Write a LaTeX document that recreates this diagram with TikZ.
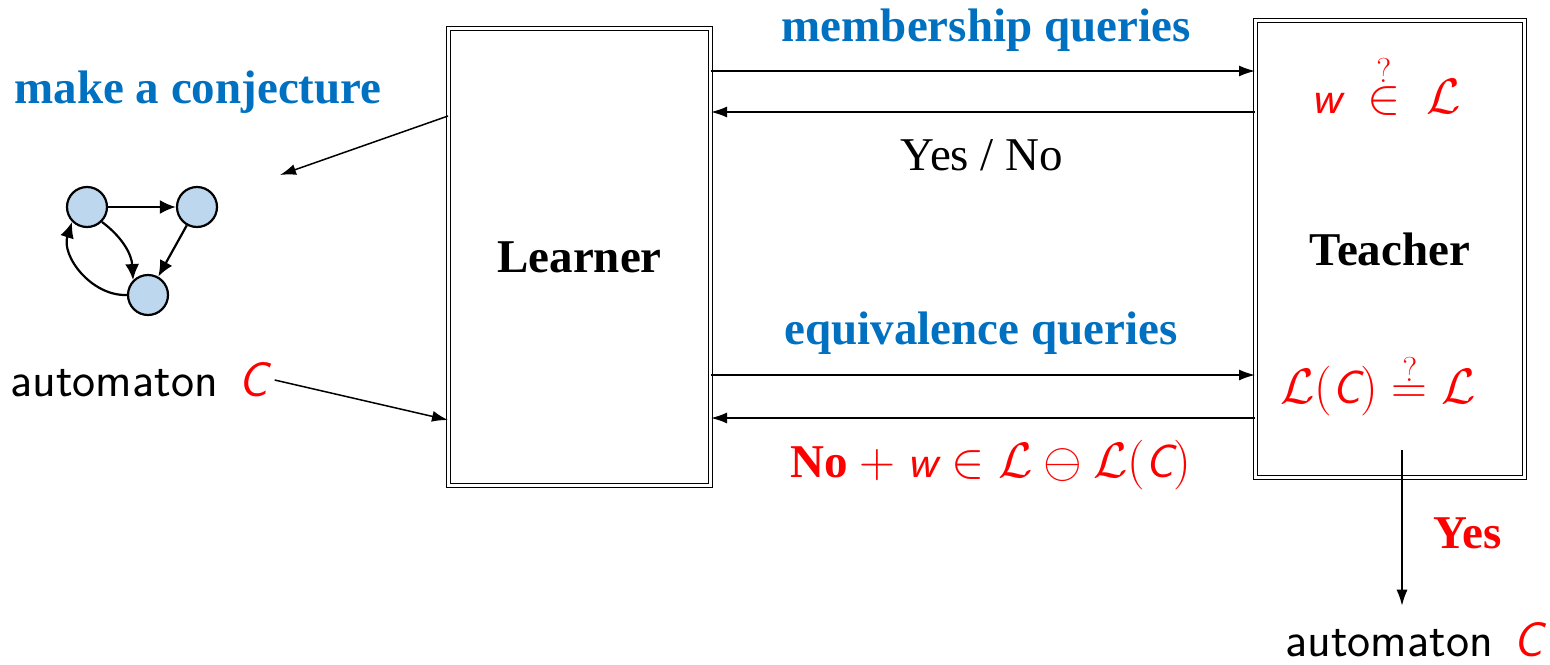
\documentclass[tikz,border=0pt]{standalone}
\usepackage{fontspec}
\setmainfont{Liberation Serif}
\usetikzlibrary{arrows.meta,positioning}
\definecolor{queryblue}{RGB}{0,112,192}
\definecolor{stateblue}{RGB}{189,215,238}
\newcommand{\svar}[1]{\mbox{\sffamily\itshape #1}}

\begin{document}
\begin{tikzpicture}[
  x=0.5pt, y=-0.5pt,
  font=\fontsize{23.5}{28}\selectfont,
  agent/.style={
    draw,
    double,
    double distance=1.5pt,
    line width=0.5pt,
    minimum height=228.5pt,
    font=\fontsize{23.5}{28}\selectfont\bfseries
  },
  query/.style={
    text=queryblue,
    font=\fontsize{23.5}{28}\selectfont\bfseries
  },
  answer/.style={
    text=red
  },
  result/.style={
    font=\fontsize{24.5}{28}\selectfont\sffamily
  },
  state/.style={
    circle,
    draw,
    line width=1.1pt,
    fill=stateblue,
    minimum size=20pt,
    inner sep=0pt
  },
  arr/.style={
    -{Latex[length=8pt,width=5.5pt]},
    line width=0.75pt
  },
  trans/.style={
    -{Latex[length=8pt,width=7pt]},
    line width=1.1pt
  }
]
\useasboundingbox (0,0) rectangle (1550,664);

% Learner and Teacher
\node[agent, minimum width=131pt] (learner) at (579.5,257) {Learner};
\node[agent, minimum width=134.5pt] (teacher) at (1390,249) {Teacher};

% Conjectured automaton
\node[state] (s1) at (87,207) {};
\node[state] (s2) at (197,207) {};
\node[state] (s3) at (148,295) {};
\draw[trans] (s1) -- (s2);
\draw[trans] (s2) -- (s3);
\draw[trans] (s1.south east) to[bend left=25] (s3.north west);
\draw[trans] (s3.west) to[bend left=55] (s1.south west);

\node[query] (conj) at (198,92) {make a conjecture};
\node[result] (autoL) at (139,380) {automaton \hspace{0.1em}\textcolor{red}{\itshape C}};

% Queries
\coordinate (mq) at (0,71);
\coordinate (ma) at (0,112);
\coordinate (eq) at (0,375);
\coordinate (ea) at (0,418);
\coordinate (cq) at (0,116);
\coordinate (ci) at (0,420);
\coordinate (ctip) at (280,175);
\coordinate (ystart) at (1402,450);

\node[query] (memq) at (986,30) {membership queries};
\node (memans) at (982,155) {Yes / No};
\node[query] (equq) at (981,333) {equivalence queries};
\node[answer, anchor=base] (equans) at (991,477)
  {\textbf{No} $+\ \svar{w} \in \mathcal{L} \ominus \mathcal{L}(\svar{C})$};

\node[answer, anchor=base] (memtest) at (1386,113)
  {$\svar{w}\ \stackrel{?}{\in}\ \mathcal{L}$};
\node[answer, anchor=base] (equtest) at (1378,403)
  {$\mathcal{L}(\svar{C}) \stackrel{?}{=} \mathcal{L}$};

\node[result] (autoR) at (1414,640) {automaton \hspace{0.1em}\textcolor{red}{\itshape C}};

% Connectors
\draw[arr] (learner.west |- cq) -- (ctip);
\draw[arr] (autoL.east) -- (learner.west |- ci);
\draw[arr] (learner.east |- mq) -- (teacher.west |- mq);
\draw[arr] (teacher.west |- ma) -- (learner.east |- ma);
\draw[arr] (learner.east |- eq) -- (teacher.west |- eq);
\draw[arr] (teacher.west |- ea) -- (learner.east |- ea);
\draw[arr, shorten >=5pt] (ystart) -- (ystart |- autoR.north)
  node[midway, right=12pt, answer, font=\fontsize{23.5}{28}\selectfont\bfseries] {Yes};

\end{tikzpicture}
\end{document}
